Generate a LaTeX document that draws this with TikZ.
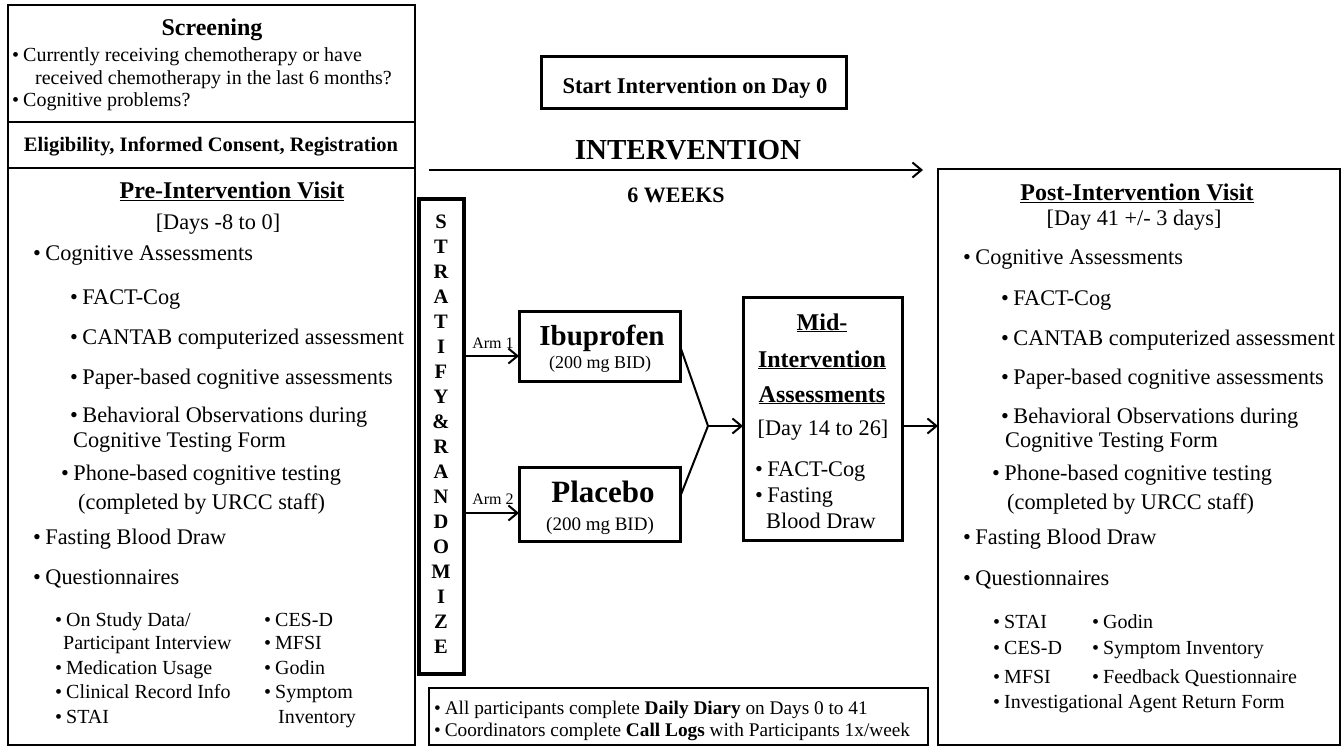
\documentclass[tikz,border=0pt]{standalone}
\usepackage{fontspec}
\setmainfont{Liberation Serif}
\usetikzlibrary{arrows.meta}
\newcommand{\myfs}[1]{\fontsize{#1}{#1}\selectfont}
\newcommand{\itm}{\textbullet\hspace{.2em}}
\tikzset{
  frm/.style={draw, line width=2pt, inner sep=0pt, outer sep=0pt, anchor=north west},
  itL/.style={anchor=base west, inner sep=0pt, font=\myfs{22.3}},
  itS/.style={anchor=base west, inner sep=0pt, font=\myfs{20}},
  ctr/.style={anchor=base, inner sep=0pt},
  arr/.style={line width=2pt, -{Straight Barb[length=9pt,width=15pt,line width=2pt]}},
  lnk/.style={line width=2pt},
  ltr/.style={anchor=base, inner sep=0pt, font=\bfseries\myfs{20.5}},
}
\begin{document}
\begin{tikzpicture}[x=1pt,y=-1pt]
\useasboundingbox (0,0) rectangle (1343,747);

% ---------- boxes ----------
\node[frm, minimum width=407pt, minimum height=117pt] (scr) at (8,5) {};
\node[frm, minimum width=407pt, minimum height=46pt] (elig) at (8,122) {};
\node[frm, minimum width=407pt, minimum height=577pt] (pre) at (8,168) {};
\node[frm, line width=3.5pt, minimum width=45pt, minimum height=475pt] (strat) at (419,199) {};
\node[frm, line width=3pt, minimum width=305pt, minimum height=52pt] (start) at (541,56) {};
\node[frm, line width=3pt, minimum width=161pt, minimum height=70pt] (ibu) at (519,311) {};
\node[frm, line width=3pt, minimum width=161pt, minimum height=74pt] (plc) at (519,467) {};
\node[frm, line width=3pt, minimum width=159pt, minimum height=243pt] (mid) at (743,297) {};
\node[frm, minimum width=499pt, minimum height=57pt] (bot) at (429,688) {};
\node[frm, minimum width=402pt, minimum height=576pt] (post) at (938,169) {};

% ---------- screening ----------
\node[ctr, font=\bfseries\myfs{24}] (scrT) at (212,35) {Screening};
\node[itS] (scr1) at (12,61) {\itm Currently receiving chemotherapy or have};
\node[itS] (scr2) at (35,84) {received chemotherapy in the last 6 months?};
\node[itS] (scr3) at (12,106) {\itm Cognitive problems?};
\node[ctr, font=\bfseries\myfs{20.5}] (eligT) at (211,151) {Eligibility, Informed Consent, Registration};

% ---------- pre-intervention ----------
\node[ctr, font=\bfseries\myfs{24}] (preT) at (232,198) {\underline{Pre-Intervention Visit}};
\node[ctr, font=\myfs{22.3}] (preD) at (218,229) {[Days -8 to 0]};
\node[itL] (p1) at (33,260) {\itm Cognitive Assessments};
\node[itL] (p2) at (70,304) {\itm FACT-Cog};
\node[itL] (p3) at (70,344) {\itm CANTAB computerized assessment};
\node[itL] (p4) at (70,384) {\itm Paper-based cognitive assessments};
\node[itL] (p5) at (70,422) {\itm Behavioral Observations during};
\node[itL] (p5b) at (73,447) {Cognitive Testing Form};
\node[itL] (p6) at (61,480) {\itm Phone-based cognitive testing};
\node[itL] (p6b) at (78,509) {(completed by URCC staff)};
\node[itL] (p7) at (33,544) {\itm Fasting Blood Draw};
\node[itL] (p8) at (33,584) {\itm Questionnaires};
\node[itS] (q1) at (55,626) {\itm On Study Data/};
\node[itS] (q1b) at (63,649) {Participant Interview};
\node[itS] (q2) at (55,674) {\itm Medication Usage};
\node[itS] (q3) at (55,698) {\itm Clinical Record Info};
\node[itS] (q4) at (55,723) {\itm STAI};
\node[itS] (q5) at (264,626) {\itm CES-D};
\node[itS] (q6) at (264,649) {\itm MFSI};
\node[itS] (q7) at (264,674) {\itm Godin};
\node[itS] (q8) at (264,698) {\itm Symptom};
\node[itS] (q8b) at (278,723) {Inventory};

% ---------- middle ----------
\node[ctr, font=\bfseries\myfs{22.5}] (startT) at (695,93) {Start Intervention on Day 0};
\node[ctr, font=\bfseries\myfs{29}] (ivT) at (688,159) {INTERVENTION};
\node[ctr, font=\bfseries\myfs{22}] (wkT) at (676,202) {6 WEEKS};
\coordinate (ivs) at (429,170);
\coordinate (ive) at (923,170);
\draw[arr] (ivs) -- (ive);

\foreach \l [count=\i from 0] in {S,T,R,A,T,I,F,Y,\&,R,A,N,D,O,M,I,Z,E}
  \node[ltr] (sl\i) at (441,{228+25*\i}) {\l};

\coordinate (y1) at (0,356);
\coordinate (y2) at (0,513);
\draw[arr] (strat.east |- y1) -- (ibu.west |- y1);
\draw[arr] (strat.east |- y2) -- (plc.west |- y2);
\node[ctr, font=\myfs{16}] (arm1) at (493,348) {Arm 1};
\node[ctr, font=\myfs{16}] (arm2) at (493,504) {Arm 2};

\node[ctr, font=\bfseries\myfs{29}] (ibuT) at (602,345) {Ibuprofen};
\node[ctr, font=\myfs{18}] (ibuD) at (600,368) {(200 mg BID)};
\node[ctr, font=\bfseries\myfs{31}] (plcT) at (603,502) {Placebo};
\node[ctr, font=\myfs{19}] (plcD) at (600,530) {(200 mg BID)};

\coordinate (mrg) at (708,426);
\draw[lnk] (ibu.east) -- (mrg);
\draw[lnk] ([yshift=7pt]plc.east) -- (mrg);
\draw[arr] (mrg) -- (mid.west |- mrg);
\draw[arr] (mid.east |- mrg) -- (post.west |- mrg);

\node[ctr, font=\bfseries\myfs{24}] (m1) at (822,330) {\underline{Mid-}};
\node[ctr, font=\bfseries\myfs{24}] (m2) at (822,367) {\underline{Intervention}};
\node[ctr, font=\bfseries\myfs{24}] (m3) at (822,402) {\underline{Assessments}};
\node[ctr, font=\myfs{22.3}] (m4) at (823,435) {[Day 14 to 26]};
\node[itL] (m5) at (755,476) {\itm FACT-Cog};
\node[itL] (m6) at (755,502) {\itm Fasting};
\node[itL] (m6b) at (766,528) {Blood Draw};

\node[anchor=base west, inner sep=0pt, font=\myfs{19.3}] (b1) at (434,714) {\itm All participants complete \textbf{Daily Diary} on Days 0 to 41};
\node[anchor=base west, inner sep=0pt, font=\myfs{19.3}] (b2) at (434,736) {\itm Coordinators complete \textbf{Call Logs} with Participants 1x/week};

% ---------- post-intervention ----------
\node[ctr, font=\bfseries\myfs{24}] (postT) at (1137,200) {\underline{Post-Intervention Visit}};
\node[ctr, font=\myfs{22.3}] (postD) at (1134,225) {[Day 41 +/- 3 days]};
\node[itL] (r1) at (963,264) {\itm Cognitive Assessments};
\node[itL] (r2) at (1001,305) {\itm FACT-Cog};
\node[itL] (r3) at (1001,345) {\itm CANTAB computerized assessment};
\node[itL] (r4) at (1001,384) {\itm Paper-based cognitive assessments};
\node[itL] (r5) at (1001,423) {\itm Behavioral Observations during};
\node[itL] (r5b) at (1005,447) {Cognitive Testing Form};
\node[itL] (r6) at (992,480) {\itm Phone-based cognitive testing};
\node[itL] (r6b) at (1007,509) {(completed by URCC staff)};
\node[itL] (r7) at (963,544) {\itm Fasting Blood Draw};
\node[itL] (r8) at (963,585) {\itm Questionnaires};
\node[itS] (s1) at (993,628) {\itm STAI};
\node[itS] (s2) at (1092,628) {\itm Godin};
\node[itS] (s3) at (993,654) {\itm CES-D};
\node[itS] (s4) at (1092,654) {\itm Symptom Inventory};
\node[itS] (s5) at (993,683) {\itm MFSI};
\node[itS] (s6) at (1092,683) {\itm Feedback Questionnaire};
\node[itS] (s7) at (993,708) {\itm Investigational Agent Return Form};
\end{tikzpicture}
\end{document}
